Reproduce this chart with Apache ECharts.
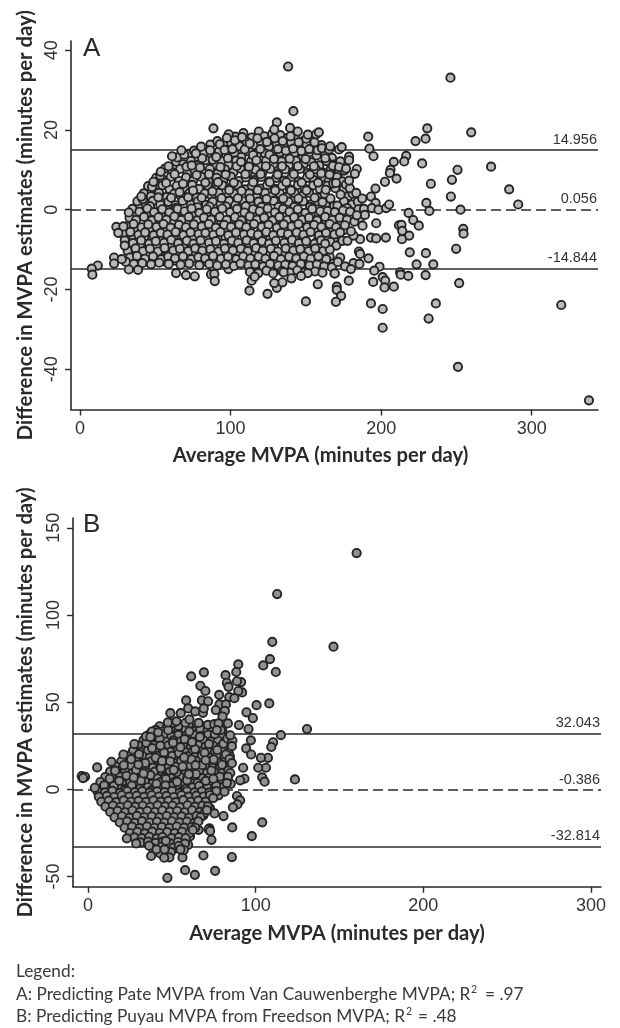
<!DOCTYPE html>
<html><head><meta charset="utf-8">
<style>html,body{margin:0;padding:0;background:#fff}#c{width:620px;height:1028px}</style>
<script src="https://cdn.jsdelivr.net/npm/echarts@6/dist/echarts.min.js"></script>
</head><body><div id="c"></div>
<script>
const xTicksA=[0,100,200,300], yTicksA=[-40,-20,0,20,40];
const xTicksB=[0,100,200,300], yTicksB=[-50,0,50,100,150];
const limitsA=[14.956,-14.844], meanA=0.056;
const limitsB=[32.043,-32.814], meanB=-0.386;
const outliersA=[[138.2,35.9],[141.7,24.7],[130.7,21.9],[129,20.1],[139.5,20.5],[144.6,19.6],[151.3,18.8],[156.8,18.9],[158.6,19.4],[88.6,20.4],
[246,33.1],[259.8,19.4],[230.6,20.4],[229.5,17.8],[222.8,17.2],[191.4,18.3],[192.2,15.3],[194.9,13.4],[216.6,13.5],[215.3,12.1],[208.4,12],[227.2,11.6],[206.2,10],[205.8,9.2],[210.2,7.8],[202.5,7],[196.2,5.3],[233,6.5],[250.7,10],[247,7.5],[273,10.8],[285,5.1],[291,1.3],[246.3,3.3],[230,1.7],[232,-0.3],[252.7,0],[205.3,1.3],[218.2,-0.8],[221.3,-2.6],[225,-4],[211.8,-3.9],[213.5,-3.8],[214,-5.3],[218.6,-6.5],[213.8,-7.4],[203.1,-7],[196.7,-3.4],[254.5,-4.8],[254.7,-6],[249.8,-9.8],[219,-10.7],[229.7,-10.9],[234.6,-13.7],[223.5,-13.7],[198.9,-14.3],[195.4,-15.3],[212.6,-15.7],[213,-16.3],[218,-16.6],[229.5,-16.4],[201,-16.9],[251.8,-18.4],[202.7,-17.8],[202.2,-19.5],[208.4,-19.3],[201,-24.9],[236.3,-23.5],[231.5,-27.3],[201,-29.6],[251,-39.4],[319.6,-23.9],[338,-47.8],
[169.2,-16],[157.9,-18.7],[178.5,-17.8],[170.5,-19.3],[170.5,-20.1],[173.4,-21.6],[169.9,-23.1],[150,-23],[193.2,-23.5],[194.7,-18.1],[124.5,-21.1],[112.5,-20.3],[130.7,-19.6],[134.4,-18.2],[114,-17.8],[116,-16.8],[129,-18.4],
[67.3,14.9],[61.1,13.4],[76.9,14.1],[53.6,9.5],[48.7,7],[40.7,3.3],[32.4,-0.7],[24.1,-4.3],[28.8,-4.2],[25.4,-5.8],[29.7,-7.7],[29.7,-9],[22.6,-12],[27.7,-12.4],[22.6,-13.5],[11.8,-14],[7.8,-14.8],[8.2,-16.3],[32.4,-15],[38.5,-15.1],[63.8,-15.9],[70.4,-16.4],[76.2,-16.7],[87,-16.2],[89.2,-16.1],[89.5,-17.9]];
const edgeA=[[166.1,15.9],[172,15.1],[173.8,15.7],[178.7,13.3],[178.7,12.4],[183.8,10.2],[182.5,9],[176.7,10.3],[178.7,7.3],[183.4,4.2],[187.4,2.8],[193.2,3.3],[196.3,1.7],[193.8,0.4],[198.2,0],[203.3,0.4],[189.2,-1.3],[187.6,-4],[183.8,-1.4],[174.3,-7.8],[177.6,-7.8],[186,-7.4],[193.2,-7],[196.7,-7.2],[181.6,-6.5],[180,-5.4],[172.8,-12],[171.2,-13.1],[185.2,-10.5],[186,-11.1],[191.6,-12.2],[181.6,-13.4],[185.6,-13.6],[176,-14.2],[179.9,-14.9],[158.3,-11.7],[162.8,-8.5],[169,-16],[151.2,-15.9],[146.8,-16.6],[140.4,-17.2],[135.2,-15.7]];
const cloudA1=[[103,18.3],[108.5,19.2],[114,18.1],[118.7,19.6],[122.4,18.4],[127.6,19],[133,18.7],[137.9,18],[143,17.8],[148.3,17.2],[152.8,17.5],[98.7,18.9],
[86.5,16.3],[91.2,17.2],[95.8,16.1],[100.4,16.7],[105.9,15.9],[110.7,17],[115.2,16.2],[120.3,16.8],[125.4,15.8],[130.6,16.6],[135.1,16],[140.2,16.9],[145.7,15.7],[150.5,16.3],[155.6,15.6],[160.4,16.2],[84.2,15],
[72.3,14],[77.6,13.2],[82.1,14.2],[87.4,13.5],[92.3,14.6],[97,13.7],[102.5,14.3],[107.1,13.2],[112.6,14.5],[117.4,13.6],[122.8,14.1],[127.1,13.3],[132.7,14.4],[137.5,13.5],[142.4,14.2],[147.9,13.3],[152.6,14.4],[157.1,13.6],[162.7,14],[167.3,13],
[63.9,12],[68.6,11.4],[73.7,12.2],[78.3,11.1],[83.4,12.4],[88.9,11.3],[93.8,12.2],[98.6,11.2],[103.7,12.3],[108.3,11.4],[113.5,12.1],[118.9,11],[123.6,12.3],[128.4,11.4],[133.9,12.1],[138.7,11],[143.3,12.3],[148.8,11.5],[153.5,11.9],[158.9,11.1],[163.6,12.2],[168.4,11.3],[172.9,12.1],
[56.4,10.3],[61.2,9.4],[66.5,10.2],[71.3,9.2],[76.1,10],[81.7,9.3],[86.2,10.2],[91.4,9.1],[96.3,10.1],[101.9,9.4],[106.5,10.3],[111.2,9.2],[116.6,10],[121.1,9.3],[126.3,10.2],[131.5,9.1],[136.2,10.1],[141.6,9.4],[146.1,10.2],[151.4,9.2],[156.7,10.1],[161.3,9.3],[166.5,10.2],[171.9,9.3],[175.6,9.8],
[50.6,8],[55.1,7.4],[60.3,8.2],[65.8,7.2],[70.4,8.1],[75.2,7.3],[80.6,8.2],[85.3,7.1],[90.7,8],[95.1,7.3],[100.2,8.3],[105.4,7.2],[110.1,8.1],[115.7,7.4],[120.4,8.2],[125.5,7.1],[130.2,8],[135.6,7.3],[140.5,8.2],[145.2,7.1],[150.7,8],[155.3,7.4],[160.8,8.1],[165.1,7.2],[170.6,8.2],[174.3,7.1],
[45.2,5.9],[49.8,5.3],[54.7,6.1],[59.4,5.1],[64.2,6],[69.7,5.3],[74.5,6.2],[79.1,5.2],[84.8,6],[89.3,5.1],[94.6,6.1],[99.2,5.4],[104.7,6.2],[109.5,5.1],[114.1,6],[119.6,5.3],[124.2,6.1],[129.7,5.2],[134.3,6],[139.4,5.1],[144.8,6.2],[149.1,5.3],[154.9,6.1],[159.2,5.2],[164.3,6],[169.5,5.4],[175.1,5.2],
[42.3,4.1],[47.1,3.4],[52.4,4.2],[57.6,3.2],[62.5,4],[67.2,3.3],[72.7,4.2],[77.4,3.1],[82.9,4.1],[87.5,3.4],[92.1,4.2],[97.8,3.2],[102.3,4],[107.6,3.3],[112.4,4.1],[117.2,3.1],[122.9,4.2],[127.3,3.3],[132.8,4],[137.1,3.2],[142.6,4.1],[147.4,3.4],[152.2,4.2],[157.8,3.1],[162.5,4],[178.2,3.4],[181,4],
[38.1,2.1],[43.6,1.4],[48.3,2.2],[53.2,1.3],[58.7,2],[63.4,1.1],[68.1,2.2],[73.6,1.3],[78.2,2.1],[83.7,1.2],[88.1,2],[93.3,1.4],[98.9,2.2],[103.1,1.1],[108.8,2.1],[113.2,1.3],[118.5,2],[123.3,1.2],[128.7,2.2],[133.2,1.3],[138.4,2],[143.5,1.1],[148.2,2.1],[153.7,1.4],[158.3,2],[163.1,1.2],[175.3,2.1],[180.6,1.3],[184.5,2]];
const cloudA2=[[34.8,0.2],[39.4,-0.5],[44.7,0.3],[49.2,-0.6],[54.6,0.1],[59.3,-0.7],[64.8,0.2],[69.5,-0.4],[74.1,0.3],[79.4,-0.8],[84.2,0.1],[89.6,-0.5],[94.4,0.3],[99.7,-0.6],[104.3,0.2],[109.2,-0.7],[114.9,0.1],[119.3,-0.4],[124.6,0.3],[129.4,-0.7],[134.8,0.2],[139.1,-0.5],[144.6,0.1],[149.7,-0.8],[154.2,0.2],[159.6,-0.4],[164.4,-0.3],[169.2,-0.6],[174.7,-0.2],[179.3,-0.5],[184.9,0.1],[188.6,0.2],
[32.9,-2],[37.2,-2.6],[42.5,-1.8],[47.6,-2.7],[52.1,-1.9],[57.3,-2.5],[62.7,-1.7],[67.4,-2.6],[72.2,-1.8],[77.7,-2.7],[82.3,-2],[87.1,-2.5],[92.8,-1.8],[97.4,-2.6],[102.9,-1.9],[107.2,-2.7],[112.7,-1.7],[117.5,-2.5],[122.3,-2],[127.9,-2.7],[132.4,-1.8],[137.6,-2.6],[142.2,-1.9],[147.5,-2.5],[152.1,-2],[157.4,-2.7],[162.8,-1.8],[167.6,-2.6],[172.4,-2],[177.3,-2.5],[182.2,-3],
[31.1,-4.2],[35.6,-3.6],[40.9,-4.4],[45.3,-3.7],[50.8,-4.3],[55.4,-3.6],[60.2,-4.5],[65.7,-3.8],[70.3,-4.4],[75.6,-3.7],[80.9,-4.2],[85.5,-3.6],[90.2,-4.5],[95.7,-3.8],[100.3,-4.3],[105.8,-3.7],[110.4,-4.4],[115.6,-3.6],[120.7,-4.3],[125.2,-3.8],[130.8,-4.5],[135.3,-3.7],[140.6,-4.2],[145.1,-3.6],[150.9,-4.4],[155.5,-3.8],[160.3,-4.3],[165.8,-3.6],[170.1,-4.4],[175.9,-3.9],
[28.7,-6.1],[33.4,-5.6],[38.8,-6.3],[43.2,-5.7],[48.9,-6.4],[53.6,-5.8],[58.1,-6.2],[63.5,-5.6],[68.7,-6.4],[73.4,-5.7],[78.8,-6.1],[83.3,-5.8],[88.6,-6.3],[93.2,-5.6],[98.5,-6.4],[103.6,-5.7],[108.9,-6.2],[113.7,-5.9],[118.2,-6.3],[123.7,-5.6],[128.3,-6.4],[133.6,-5.8],[138.2,-6.1],[143.9,-5.7],[148.4,-6.3],[153.1,-5.6],[158.7,-6.4],[163.4,-5.8],[168.9,-6.2],[172.7,-5.7],
[30.8,-7.8],[35.2,-8.4],[40.6,-7.7],[45.9,-8.5],[50.3,-7.9],[55.8,-8.3],[60.6,-7.6],[65.2,-8.4],[70.9,-7.8],[75.4,-8.5],[80.1,-7.7],[85.7,-8.3],[90.3,-7.9],[95.6,-8.5],[100.8,-7.8],[105.1,-8.3],[110.7,-7.7],[115.3,-8.4],[120.9,-7.9],[125.6,-8.5],[130.1,-7.8],[135.7,-8.3],[140.8,-7.6],[145.4,-8.4],[150.2,-7.9],[155.8,-8.5],[160.1,-7.7],[166.3,-8.1],[170.2,-9],
[31.6,-10.3],[36.9,-9.7],[41.8,-10.4],[46.4,-9.8],[51.7,-10.5],[56.2,-9.6],[61.9,-10.2],[66.3,-9.8],[71.8,-10.4],[76.5,-9.7],[81.2,-10.3],[86.6,-9.9],[91.9,-10.5],[96.2,-9.7],[101.5,-10.2],[106.8,-9.8],[111.3,-10.4],[116.9,-9.6],[121.4,-10.3],[126.8,-9.8],[131.3,-10.5],[136.6,-9.7],[141.7,-10.2],[146.3,-9.9],[151.8,-10.4],[156.2,-9.7],[161.6,-10.3],[165.9,-10],
[33.2,-12],[37.8,-11.6],[43.1,-12.3],[48.5,-11.7],[53.9,-12.4],[58.6,-11.8],[63.1,-12.2],[68.4,-11.7],[73.9,-12.4],[78.6,-11.9],[83.1,-12.2],[88.4,-11.6],[93.7,-12.3],[98.3,-11.8],[103.8,-12.4],[108.4,-11.7],[113.1,-12.2],[118.6,-11.8],[123.2,-12.3],[128.9,-11.6],[133.5,-12.4],[138.9,-11.8],[143.6,-12.2],[148.7,-11.7],[153.2,-12.3],[163.5,-12.4],
[30.5,-13.1],[35.7,-13.6],[41.3,-13.4],[47.2,-13.7],[52.6,-13.3],[58.9,-13.6],[66.8,-13.8],[72.5,-13.5],[79.2,-13.9],[85.8,-13.6],[91.1,-14],[96.9,-13.7],[102.2,-14.1],[106.6,-13.5],[111.9,-14],[116.4,-13.7],[121.6,-14.2],[126.2,-13.6],[131.7,-14],[136.3,-13.8],[141.2,-14.1],[146.6,-13.6],[152.4,-14],[157.3,-13.7],[162.1,-14.2],[167.2,-14.4],
[112.8,-15.6],[118.4,-15.9],[123.8,-15.3],[128.2,-16],[134.1,-15.4],[139.6,-15.8],[144.3,-15.2],[149.4,-15.7],[156.1,-15.5],[161,-15.8]];
const cloudA3=[[36.3,-1.4],[34.1,-6.9],[37.4,-11.2],[35.9,-4.7],[41.6,2.6],[44.1,-1.2],[42.7,-6.8],[45.2,-9.1],[40.3,-11.9],[44.6,-13],
[47.8,5.7],[46.4,0.9],[49.9,-3.2],[47.3,-5.1],[50.7,-9],[48.1,-12.8],[53.3,8.6],[52,3.1],[54.9,-0.9],[51.6,-2.9],[55.1,-6.9],[52.8,-11.1],[56.6,-13],
[58.8,10.9],[57.2,6.7],[60.5,3],[58,-0.2],[61.3,-3.1],[57.9,-7.3],[60.9,-9.2],[58.4,-11],[63.2,-12.8],[64.5,13.1],[62.8,8.9],[66.1,4.4],[63.7,0.4],[66.9,-3],[64,-5],[67.3,-7],[63.9,-11],
[69.2,13.8],[70.7,10.8],[68.4,6.5],[71.8,3.1],[69,-1.2],[72.4,-3.2],[68.9,-9],[71.6,-11.3],[69.7,-13],[75.7,14.8],[74.2,11.1],[77.4,8.7],[75.1,4.8],[78,0.6],[75.3,-1.5],[77.9,-5],[74.8,-7],[78.4,-9.3],[76.1,-11.2],
[80.4,15.8],[81.1,12.9],[79.7,10.6],[83.2,6.8],[80.8,3],[84,-0.9],[81.4,-3.1],[84.6,-7.2],[81.9,-9],[83.7,-13],[86.4,14.9],[88.1,12.5],[85.6,8.9],[87.9,4.6],[86,0.8],[89.1,-3.2],[86.7,-5.1],[88.8,-9.1],[86.2,-11],[88.7,-14.7],
[92.8,16.4],[90.5,13.2],[93.2,10.7],[91.6,6.9],[94,2.9],[90.9,-1.1],[93.9,-3.1],[91.3,-7.1],[94.1,-11],[92.6,-13],[97.5,18],[96,15],[98.2,12.9],[96.7,8.8],[99.1,4.9],[97,0.8],[99.6,-3],[96.5,-5.1],[99.4,-9.1],[97.3,-11],[98.6,-14.9],
[102.9,17.4],[101.2,15.2],[104,10.9],[102.1,6.8],[104.8,2.9],[101.7,-1],[104.6,-5],[102.3,-7.1],[104.4,-11],[101.3,-13],[107.6,18.2],[109.4,15.1],[106.9,12],[109.8,8.9],[107.3,4.7],[110,0.9],[107.8,-3],[110.3,-5],[107.1,-9.1],[109.9,-13],
[112.7,16.6],[114.9,13.7],[112.2,10.8],[115,6.9],[112.9,2.8],[115.6,-1],[113.3,-3],[115.4,-7.1],[112.4,-9],[114.6,-11],[117.8,17.9],[119.7,15.2],[117.1,12.4],[120,8.9],[118,4.9],[120.6,0.7],[118.2,-3.1],[120.4,-5.2],[117.9,-9.1],[120.2,-13],[118.5,-15],
[124.1,17],[125.8,13.8],[123.4,10.9],[126,6.9],[123.9,2.7],[126.4,-1],[124.2,-3],[126.3,-7.1],[123.7,-11],[126.1,-15.1],[129.2,17.9],[131.4,15.2],[128.8,12.7],[131.2,8.8],[129.6,4.8],[131.9,0.7],[129.1,-3],[131.5,-5.1],[128.7,-9],[131.1,-13],
[134.6,17.2],[136.7,14.8],[134.2,10.9],[137,6.9],[134.9,2.8],[137.3,-1],[135,-5],[137.4,-7.1],[134.5,-11],[136.9,-13],[139.8,18.4],[141.5,15.3],[139.2,12.8],[142,8.9],[140.1,4.8],[142.4,0.7],[139.7,-3],[142.3,-5.2],[139.9,-9.1],[142.1,-13],
[145.2,16.9],[147,14.7],[144.7,10.9],[147.2,6.8],[145,2.8],[147.5,-1],[145.3,-3.2],[147.7,-7],[144.9,-11],[147.1,-15],[150.3,17.8],[152.2,15.2],[149.8,12.7],[152.6,8.8],[150.4,4.8],[152.8,0.7],[150.6,-3],[152.9,-5.1],[150.1,-9],[152.5,-13],
[155.7,16.9],[157.8,14.9],[155.3,10.9],[158.1,6.8],[155.8,3],[158.4,-1],[155.9,-3.2],[158.3,-7.1],[155.6,-11],[157.8,-14.9],[160.7,15.4],[162.9,12.9],[160.2,9.1],[163.2,5],[161,1.9],[163.5,-3],[161.1,-5.2],[163.3,-9.1],[160.6,-13],
[165.4,15.1],[167.9,11],[165.7,8.8],[168.2,6.6],[166.3,2.8],[168.7,0.9],[166.1,-5],[168.5,-7.3],[165.8,-11.8],[172,10.7],[170,6.7],[173,3.8],[170.9,1],[173.4,-3.2],[171.2,-5.4],[168.4,-13.5],[176.6,6.3],[177.4,0.4],[175.2,-5.1],[181.1,-2],[185.5,-2.8],[179.2,5.4]];

const outliersB=[[160.2,135.5],[112.8,112],[109.9,84.6],[146.4,81.8],[108.5,74.7],[104.5,71.1],[112,67.3],[89.6,71.7],[88.4,67.3],[69.1,67.1],[61.5,64.8],[82,65.5],[91.3,61.5],[88.8,62],[82.8,61.1],[83.8,58.8],[67,59.4],[70,56.4],[91.9,55.6],[89.6,56.4],[78.2,54.2],[84.2,52.9],[87.3,52.3],[58.5,51],[67.9,51],[71.6,50.5],[78.4,48.7],[82.2,48.7],[100.5,48.3],[108.1,49.3],[94.5,44.2],[98.3,40.9],[49.1,43.7],[55.3,43.7],[59.7,46.4],[63.9,44.7],[68.5,43.9],[69,46.4],[76.2,45.5],[81.6,45],[80.2,41.8],[52.7,39],[47.6,38.4],[60.5,40.1],[77.8,37.8],[83.4,37.8],[90,36.9],[95.7,34.6],[130.6,34.6],[115,31.1],[97.1,28.1],[94.3,23.5],[97.3,20],[110.4,27],[109.3,24.3],[107.3,18.1],[103.1,18.1],[106.1,12.4],[101.5,12.4],[92.5,12.4],[93.3,6.1],[90.7,5.2],[103.9,6.9],[105.3,4.4],[123.4,5.7],[88.8,-3.8],[90.7,-6.3],[89.1,-8.6],[86.4,-10.3],[80.8,-15.3],[75.4,-13.8],[103.9,-18.9],[86,-21.8],[72.4,-22.4],[97.7,-26.8],[71.8,-22.9],[72.8,-23.9],[73.6,-28.9],[68.8,-37.9],[85.8,-38.8],[57.9,-46.3],[63.7,-49],[75.8,-46.7],[47.3,-50.7],[48.5,-39],[45.4,-39.2],[56.3,-39],[37.6,-38.2],[57.1,-34.8],[55.1,-34.4],[40.8,-34.4],[36.4,-32.3],[45.6,-34.4],[46.4,-29.5],[28.7,-31],[23.1,-28.1],[-3.8,7.6],[-1.8,7.2],[-3,6.5],[5.4,12.6],[13.9,15.8],[4,0.9],[27.6,26],[21.1,20],[34.6,30.4],[37.2,30],[41.8,32.7],[85.8,24.8],[84.8,31],[76.8,34],[85.8,15],[84.8,9.4],[83.5,7.2],[82.8,3.6],[74.6,-5],[70.9,-11.9],[62.5,-23.3]];
const cloudB1=[[42.6,36.2],[47.1,35.3],[51.3,36.7],[55.9,35.1],[60.2,36.4],[64.7,35.6],[68.1,36.1],[40.4,34.1],[44.8,33.2],[49.3,34.4],[53.7,33],[58.2,34.2],[62.6,33.4],[66.9,34.3],[71.3,33.6],[74.2,35.2],[80.1,33.7],
[36.2,31.3],[40.7,30.6],[45.1,31.5],[49.6,30.4],[53.9,31.2],[58.4,30.7],[62.8,31.4],[67.2,30.5],[71.7,31.3],[75.9,30.6],[80.2,30.2],[33.1,28.2],[37.6,27.5],[42.1,28.4],[46.5,27.3],[50.9,28.1],[55.4,27.6],[59.8,28.3],[64.3,27.4],[68.7,28.2],[73.2,27.5],[77.4,28],[81.9,27.4],[30.2,25.1],[34.5,24.5],[39.1,25.3],[43.6,24.3],[47.9,25.2],[52.4,24.6],[56.8,25.1],[61.3,24.2],[65.7,25.3],[70.1,24.5],[74.6,25],[78.8,24.3],[83,25.5],
[26.8,22.2],[31.2,21.4],[35.7,22.3],[40.2,21.2],[44.6,22.1],[49.1,21.5],[53.5,22.3],[57.9,21.3],[62.4,22],[66.8,21.6],[71.3,22.2],[75.7,21.3],[80.1,22],[83.9,21.2],[23.4,19.2],[27.9,18.4],[32.3,19.3],[36.8,18.2],[41.3,19.1],[45.7,18.5],[50.2,19.2],[54.6,18.3],[59.1,19],[63.5,18.6],[67.9,19.3],[72.4,18.2],[76.8,19.1],[81.2,18.4],[84.6,18.9],
[19.8,16.1],[24.3,15.4],[28.7,16.3],[33.2,15.2],[37.6,16.1],[42.1,15.5],[46.5,16.2],[51,15.3],[55.4,16],[59.9,15.6],[64.3,16.3],[68.8,15.2],[73.2,16],[77.6,15.4],[82,16.2],[16.4,13.1],[20.9,12.4],[25.3,13.3],[29.8,12.2],[34.2,13.1],[38.7,12.5],[43.1,13.2],[47.6,12.3],[52,13],[56.5,12.6],[60.9,13.3],[65.4,12.2],[69.8,13.1],[74.2,12.4],[78.7,13],[82.8,12.3],
[13.1,10.2],[17.5,9.4],[22,10.3],[26.4,9.3],[30.9,10.1],[35.3,9.5],[39.8,10.2],[44.2,9.3],[48.7,10],[53.1,9.6],[57.6,10.3],[62,9.2],[66.5,10.1],[70.9,9.4],[75.3,10],[79.8,9.3],[10.2,7.1],[14.6,6.4],[19.1,7.3],[23.5,6.3],[28,7.1],[32.4,6.5],[36.9,7.2],[41.3,6.3],[45.8,7],[50.2,6.6],[54.7,7.3],[59.1,6.2],[63.6,7.1],[68,6.4],[72.5,7],[76.9,6.3],[80.4,6.8],
[7.3,4.2],[11.8,3.5],[16.2,4.3],[20.7,3.3],[25.1,4.1],[29.6,3.6],[34,4.2],[38.5,3.3],[42.9,4],[47.4,3.6],[51.8,4.3],[56.3,3.2],[60.7,4.1],[65.2,3.5],[69.6,4],[74,3.3],[78.3,4.2],[8.9,1.1],[13.4,0.5],[17.8,1.3],[22.3,0.3],[26.7,1.1],[31.2,0.6],[35.6,1.2],[40.1,0.3],[44.5,1],[49,0.6],[53.4,1.3],[57.9,0.2],[62.3,1.1],[66.8,0.5],[71.2,1],[75.7,0.3],[79.6,1.1]];
const cloudB2=[[5.6,-1.1],[10.1,-1.7],[14.5,-0.9],[19,-2],[23.4,-1.1],[27.9,-1.6],[32.3,-1],[36.8,-1.9],[41.2,-1.2],[45.7,-1.6],[50.1,-0.9],[54.6,-2],[59,-1.1],[63.5,-1.7],[67.9,-1.2],[72.3,-1.9],[76.5,-1],
[6.4,-4.2],[11.2,-3.7],[15.6,-4.4],[20.1,-3.4],[24.5,-4.2],[29,-3.6],[33.4,-4.3],[37.9,-3.4],[42.3,-4.1],[46.8,-3.7],[51.2,-4.4],[55.7,-3.3],[60.1,-4.2],[64.6,-3.6],[69,-4.1],[72.7,-3.4],[7.9,-7.1],[12.3,-6.5],[16.8,-7.3],[21.2,-6.3],[25.7,-7.1],[30.1,-6.6],[34.6,-7.2],[39,-6.3],[43.5,-7],[47.9,-6.6],[52.4,-7.3],[56.8,-6.2],[61.3,-7.1],[65.7,-6.5],[70.1,-7],
[10.4,-9.9],[14.8,-9.3],[19.3,-10.1],[23.7,-9.2],[28.2,-9.9],[32.6,-9.4],[37.1,-10.1],[41.5,-9.2],[46,-9.8],[50.4,-9.4],[54.9,-10.2],[59.3,-9.1],[63.8,-9.9],[68.2,-9.3],[71.4,-9.8],[13.2,-12.9],[17.6,-12.3],[22.1,-13.1],[26.5,-12.1],[31,-12.9],[35.4,-12.4],[39.9,-13],[44.3,-12.1],[48.8,-12.8],[53.2,-12.4],[57.7,-13.1],[62.1,-12],[66.6,-12.9],[69.4,-13.6],
[15.8,-16],[20.2,-15.4],[24.7,-16.2],[29.1,-15.2],[33.6,-16],[38,-15.5],[42.5,-16.1],[46.9,-15.3],[51.4,-15.9],[55.8,-15.5],[60.3,-16.2],[64.7,-15.2],[67.1,-16],[18.9,-19],[23.3,-18.4],[27.8,-19.2],[32.2,-18.2],[36.7,-19],[41.1,-18.5],[45.6,-19.1],[50,-18.3],[54.5,-18.9],[58.9,-18.5],[63.4,-19.2],[65.8,-18.4],
[21.8,-22],[26.2,-21.4],[30.7,-22.2],[35.1,-21.2],[39.6,-22],[44,-21.5],[48.5,-22.1],[52.9,-21.3],[57.4,-21.9],[61.8,-21.5],[63.9,-22],[25,-25],[29.4,-24.4],[33.9,-25.2],[38.3,-24.2],[42.8,-25],[47.2,-24.5],[51.7,-25.1],[56.1,-24.3],[60.6,-25],[27.6,-27.5],[32,-28],[36.5,-27.2],[40.9,-28.1],[44.4,-27.3],[49.8,-28],[54.2,-27.4],[58.2,-28],[31.3,-30.4],[35.7,-30],[40.2,-30.7],[44.6,-30],[49.1,-31],[53.5,-30.2],[57.8,-31.1],[38.4,-33.6],[43.9,-32.8],[51,-33.4],[54.1,-32.5],[49.4,-36],[43,-36.7]];
const cloudB3=[[8.7,-2.9],[9.6,2.3],[12.1,-5.2],[12.9,6.1],[14.2,-8.1],[15.4,1.9],[16.1,10.7],[16.9,-11.1],[18.6,4.9],[19.4,-5.4],[20.2,-14.2],[21.3,13.8],[21.7,-0.6],[22.9,7.9],[23.8,-8.3],[24.1,-17.6],[25.7,17.3],[26.1,2.2],[26.9,-11.4],[27.4,-21],[28.6,11.1],[29.1,-5.3],[29.8,-23.4],[30.4,20.2],[31.5,5],[32.1,-14.2],[32.8,-2.9],[33.4,-26.9],[34.1,15.1],[34.7,26.7],[35.3,-8.1],[35.9,-20.3],[37.2,8.2],[37.7,-0.7],[38.2,23.6],[38.6,-12.1],[39.1,-29.2],[40.3,18.1],[40.8,3.2],[41.4,-6],[41.9,-17.4],[42.7,29.1],[43.4,12.1],[43.9,-23],[44.7,-2.9],[45.3,21.2],[45.9,-13.9],[46.4,6],[47,-28.3],[47.8,33.9],[48.2,-8.9],[48.9,16.1],[49.5,-19.9],[50.1,1.9],[50.7,26.8],[51.3,-4.6],[52,-24.6],[52.8,9.8],[53.3,-33.8],[53.8,36.4],[54.2,20.8],[54.9,-14],[55.8,-1.2],[56.4,13.1],[57,-8.3],[57.6,28.8],[58.3,-20.1],[59,5.2],[59.7,-31.8],[60.4,33.2],[61,-11],[61.7,17.2],[62.3,-3.1],[62.9,-17.1],[63.8,23.1],[64.4,8.8],[65,-8.1],[65.9,-23.2],[66.7,30.1],[67.4,-0.9],[68,13.9],[68.8,-14.9],[69.5,21],[70.2,4.9],[70.8,-6.1],[71.5,37],[72.1,26],[72.8,-10.9],[73.6,10.8],[74.1,-2.6],[74.9,17.2],[75.6,31.7],[76.4,2.1],[77.1,22.6],[77.8,-3.4],[78.6,7.3],[79.2,34],[79.9,14.1],[80.7,26.2],[81.4,-1.3],[82.2,20],[83.1,29.2],[83.7,10.8],[84.4,17.4],[85.1,3.1],[86.1,28],[75.3,37.4],[66,38.1],[58.1,38.2],[50.8,38],
[43.1,25.1],[51.1,11.1],[37.3,-15.9],[28.1,-13],[60.8,-26.9],[33.1,9.1],[47.3,-10.4],[55.1,24.2],[24.7,-2.1],[39.6,-25],[64.1,13.9],[17.3,-2.4],[44.1,16.3],[31.1,-9],[53.9,-6.9],[70.1,16.7],[36.1,-22.7],[46.2,2.3],[60.1,8.7],[27.2,6.8],[74.7,6.1],[42.4,-10.2],[57.3,18.3],[22.4,-10.9],[66.2,1.9],[38.1,33.2],[49.2,-26.9],[30,14.2],[62,27.1],[53.1,4.3]];

const lineStyle={color:'#2a2a2a',width:1.6,type:'solid'};
function panel(i,limits,mean,points,fill){
  const fmt=v=>v.toFixed(3);
  const lab=v=>({yAxis:v,label:{formatter:fmt(v)}});
  return [{
    type:'scatter',xAxisIndex:i,yAxisIndex:i,data:[],z:1,silent:true,
    markLine:{silent:true,z:1,symbol:'none',animation:false,precision:3,
      lineStyle:lineStyle,
      label:{position:'insideEndTop',distance:[1,3],color:'#333',fontFamily:'Liberation Sans',fontSize:14.5},
      data:[lab(limits[0]),lab(limits[1]),{yAxis:mean,lineStyle:{type:[10,5],color:'#2a2a2a',width:1.6},label:{formatter:fmt(mean)}}]}
  },{
    type:'scatter',xAxisIndex:i,yAxisIndex:i,data:points,z:2,symbol:'circle',symbolSize:8.3,animation:false,large:false,
    clip:false,itemStyle:{color:fill,borderColor:'#242424',borderWidth:1.9,opacity:1}
  }];
}
function xAxis(i,min,max,ticks,title,pad,gap,margin){
  return {type:'value',gridIndex:i,min,max,splitLine:{show:false},
    axisLine:{onZero:false,lineStyle:{color:'#2a2a2a',width:1.6}},
    axisTick:{customValues:ticks,length:6,lineStyle:{color:'#2a2a2a',width:1.4}},
    axisLabel:{customValues:ticks,color:'#333',fontFamily:'Liberation Sans',fontSize:18,margin,showMinLabel:true,showMaxLabel:true,hideOverlap:false},
    name:title,nameLocation:'middle',nameGap:gap,
    nameTextStyle:{fontFamily:'Lato',fontWeight:'bold',fontSize:20.2,color:'#2a2a2a',padding:pad}};
}
function yAxis(i,min,max,ticks,title,gap){
  return {type:'value',gridIndex:i,min,max,splitLine:{show:false},
    axisLine:{onZero:false,lineStyle:{color:'#2a2a2a',width:1.6}},
    axisTick:{customValues:ticks,length:6,lineStyle:{color:'#2a2a2a',width:1.4}},
    axisLabel:{customValues:ticks,rotate:90,color:'#333',fontFamily:'Liberation Sans',fontSize:18,margin:10,hideOverlap:false},
    name:title,nameLocation:'middle',nameGap:gap,
    nameTextStyle:{fontFamily:'Lato',fontWeight:'bold',fontSize:20.2,color:'#2a2a2a'}};
}
const xName='Average MVPA (minutes per day)', yName='Difference in MVPA estimates (minutes per day)';
const note=(x,y,text,size)=>({type:'text',left:x,top:y,silent:true,style:{text,fontFamily:'Lato',fontSize:size||17.3,fill:'#3a3a3a'}});
const chart=echarts.init(document.getElementById('c'),null,{renderer:'canvas'});
chart.setOption({
  animation:false,backgroundColor:'#fff',
  grid:[{left:71,top:41,width:527,height:368.5},{left:73,top:518,width:528,height:368.7}],
  xAxis:[xAxis(0,-6,344,xTicksA,xName,[0,28,0,0],36,11),xAxis(1,-9,306,xTicksB,xName,[0,0,0,0],37,10)],
  yAxis:[yAxis(0,-50.1,42.3,yTicksA,yName,36),yAxis(1,-55.8,155.6,yTicksB,yName,38)],
  series:[...panel(0,limitsA,meanA,[...cloudA1,...cloudA3,...cloudA2,...edgeA,...outliersA],'#b8b9bb'),
          ...panel(1,limitsB,meanB,[...cloudB1,...cloudB3,...cloudB2,...outliersB],'#909193')],
  graphic:[
    {type:'text',left:83,top:36,silent:true,style:{text:'A',fontFamily:'Liberation Sans',fontSize:26,fill:'#2a2a2a'}},
    {type:'text',left:83,top:512,silent:true,style:{text:'B',fontFamily:'Liberation Sans',fontSize:26,fill:'#2a2a2a'}},
    note(16,963,'Legend:'),
    note(16,986,'A: Predicting Pate MVPA from Van Cauwenberghe MVPA; R'),
    note(471,984,'2',10.5),note(485,986,'= .97'),
    note(16,1008,'B: Predicting Puyau MVPA from Freedson MVPA; R'),
    note(406,1006,'2',10.5),note(418,1008,'= .48')
  ]
});
</script></body></html>
